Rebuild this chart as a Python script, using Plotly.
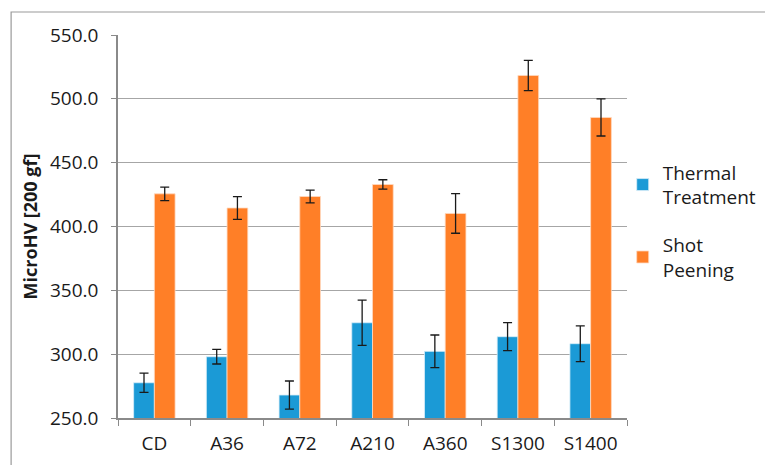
import plotly.graph_objects as go

# Microhardness per condition
categories = ["CD", "A36", "A72", "A210", "A360", "S1300", "S1400"]
thermal = [277.6, 298.0, 268.0, 324.6, 302.2, 313.7, 308.2]
thermal_err = [7.6, 5.7, 11.0, 17.7, 12.8, 11.0, 14.0]
peening = [425.6, 414.5, 423.5, 432.9, 410.2, 518.3, 485.4]
peening_err = [5.3, 8.9, 5.0, 3.7, 15.5, 11.9, 14.5]
y_ticks = [250, 300, 350, 400, 450, 500, 550]

FONT = "Open Sans"
BLUE = "#1B9AD6"
ORANGE = "#FF7F27"

def err(values):
    return dict(type="data", array=values, visible=True, color="#1a1a1a",
                thickness=1.3, width=4.5)

fig = go.Figure()
fig.add_trace(go.Bar(
    x=categories, y=thermal, name="Thermal<br>Treatment",
    marker=dict(color=BLUE, line=dict(color="#d8eef9", width=0.8)),
    error_y=err(thermal_err), legendgroup="t",
))
fig.add_trace(go.Bar(
    x=categories, y=peening, name="Shot<br>Peening",
    marker=dict(color=ORANGE, line=dict(color="#ffd9c0", width=0.8)),
    error_y=err(peening_err), legendgroup="s",
))

fig.update_layout(
    width=765, height=465,
    margin=dict(l=118, r=137.5, t=35, b=47, autoexpand=False),
    paper_bgcolor="white", plot_bgcolor="white",
    barmode="group", bargap=0.43, bargroupgap=0,
    font=dict(family=FONT, size=19, color="#1a1a1a"),
    showlegend=True,
    legend=dict(
        xref="container", yref="container",
        x=0.814, xanchor="left", y=0.525, yanchor="middle",
        font=dict(family=FONT, size=19, color="#1a1a1a"),
        tracegroupgap=20, itemwidth=30, bgcolor="rgba(0,0,0,0)",
    ),
    xaxis=dict(
        type="category", showline=True, linecolor="#8a8a8a", linewidth=1.5,
        ticks="outside", tickson="boundaries", ticklen=6, tickcolor="#8a8a8a",
        showgrid=False, tickfont=dict(family=FONT, size=19),
        ticklabelstandoff=7, automargin=False,
    ),
    yaxis=dict(
        range=[250, 550], tickvals=y_ticks, tickformat=".1f",
        showline=True, linecolor="#8a8a8a", linewidth=1.5,
        ticks="outside", ticklen=5, tickcolor="#8a8a8a",
        showgrid=True, gridcolor="#a6a6a6", gridwidth=1,
        tickfont=dict(family=FONT, size=19), ticklabelstandoff=9,
        zeroline=False, automargin=False,
        title=dict(text="<b>MicroHV [200 gf]</b>",
                   font=dict(family=FONT, size=18), standoff=8),
    ),
    shapes=[dict(
        type="rect", xref="paper", yref="paper",
        x0=-0.21, x1=1.3, y0=-0.3, y1=1.06,
        line=dict(color="#9a9a9a", width=1.2), fillcolor="rgba(0,0,0,0)",
        layer="below",
    )],
)

fig.write_html("out.html")
